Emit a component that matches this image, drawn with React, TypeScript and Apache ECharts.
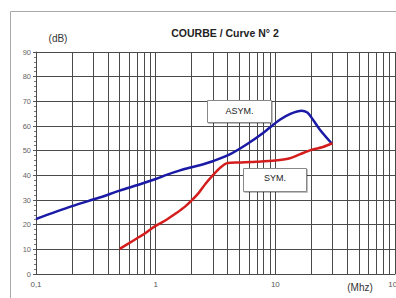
import React, { useEffect, useRef } from "react";
import * as echarts from "echarts";

const asymFreq = [0.1, 0.2, 0.34, 0.5, 0.73, 1, 1.25, 1.6, 2, 2.5, 3, 4.16, 5.74, 7.9, 10.9, 13.5, 16.6, 18.5, 20, 23.5, 29.5];
const asymDb = [22.3, 27.5, 31, 33.8, 36.3, 38.5, 40.3, 42, 43.3, 44.5, 45.7, 48.5, 52.5, 57.2, 62.5, 65, 66.2, 65.5, 63.5, 58.6, 53];

const symFreq = [0.5, 0.6, 0.7, 0.8, 0.9, 1, 1.25, 1.5, 1.75, 2, 2.3, 2.6, 3, 3.5, 4, 5, 7, 10, 13, 16, 20, 25, 30];
const symDb = [10.2, 12.5, 14.5, 16.2, 18, 19.5, 22.2, 24.8, 27.2, 29.8, 33, 36.5, 40, 43.3, 45, 45.2, 45.5, 46, 46.8, 48.5, 50.3, 51.5, 53];

const minorGridFreq = [0.2, 0.3, 0.4, 0.5, 0.6, 0.7, 0.8, 0.9, 2, 3, 4, 5, 6, 7, 8, 9, 20, 30, 40, 50, 60, 70, 80, 90];

const yTicks = { min: 0, max: 90, interval: 10 };

export default function App() {
  const ref = useRef<HTMLDivElement>(null);
  useEffect(() => {
    if (!ref.current) return;
    const chart = echarts.init(ref.current, undefined, { renderer: "svg" });
    const font = "Liberation Sans, Arial, sans-serif";
    const gridColor = "#4a4a4a";
    chart.setOption({
      animation: false,
      backgroundColor: "#ffffff",
      textStyle: { fontFamily: font },
      grid: { left: 36, right: 1, top: 52, bottom: 24, containLabel: false, outerBoundsMode: "none" },
      xAxis: {
        type: "log",
        logBase: 10,
        min: 0.1,
        max: 100,
        axisLine: { show: true, lineStyle: { color: gridColor, width: 1 } },
        axisTick: { show: false },
        axisLabel: {
          fontSize: 8,
          color: "#555",
          margin: 6,
          fontFamily: font,
          formatter: (v: number) => (v < 0.5 ? "0,1" : String(Math.round(v))),
        },
        splitLine: { show: true, lineStyle: { color: gridColor, width: 1 } },
      },
      yAxis: {
        type: "value",
        min: yTicks.min,
        max: yTicks.max,
        interval: yTicks.interval,
        axisLine: { show: true, lineStyle: { color: gridColor, width: 1 } },
        axisTick: { show: true, length: 3, lineStyle: { color: "#555" } },
        minorTick: { show: true, splitNumber: 5, length: 2, lineStyle: { color: "#777" } },
        axisLabel: { fontSize: 7.5, color: "#666", margin: 5, fontFamily: font },
        splitLine: { show: true, lineStyle: { color: gridColor, width: 1 } },
      },
      series: [
        {
          type: "line",
          data: [],
          z: 1,
          silent: true,
          markLine: {
            silent: true,
            symbol: ["none", "none"],
            label: { show: false },
            lineStyle: { color: gridColor, type: "solid", width: 1 },
            data: minorGridFreq.map((v) => ({ xAxis: v })),
          },
        },
        {
          name: "ASYM.",
          type: "line",
          z: 5,
          showSymbol: false,
          smooth: 0.3,
          lineStyle: { color: "#1a1aa6", width: 2.5 },
          data: asymFreq.map((f, i) => [f, asymDb[i]]),
        },
        {
          name: "SYM.",
          type: "line",
          z: 5,
          showSymbol: false,
          smooth: 0.3,
          lineStyle: { color: "#d41e1e", width: 2.5 },
          data: symFreq.map((f, i) => [f, symDb[i]]),
        },
      ],
      graphic: [
        {
          type: "rect",
          shape: { x: 10.5, y: 11.5, width: 420, height: 320 },
          style: { fill: "none", stroke: "#aaa", lineWidth: 1 },
          z: 0,
        },
        {
          type: "text",
          x: 225,
          y: 33,
          style: {
            text: "COURBE / Curve N° 2",
            font: `bold 10.5px ${font}`,
            fill: "#222",
            textAlign: "center",
            textVerticalAlign: "middle",
          },
        },
        {
          type: "text",
          x: 58,
          y: 38,
          style: { text: "(dB)", font: `10px ${font}`, fill: "#333", textAlign: "center", textVerticalAlign: "middle" },
        },
        {
          type: "text",
          x: 360,
          y: 287,
          style: { text: "(Mhz)", font: `10px ${font}`, fill: "#333", textAlign: "center", textVerticalAlign: "middle" },
        },
        {
          type: "rect",
          z: 10,
          shape: { x: 207.5, y: 100.5, width: 64, height: 22 },
          style: { fill: "#fff", stroke: "#888", lineWidth: 1, shadowColor: "rgba(0,0,0,0.25)", shadowOffsetX: 1, shadowOffsetY: 1, shadowBlur: 1 },
        },
        {
          type: "text",
          z: 11,
          x: 239.5,
          y: 111,
          style: { text: "ASYM.", font: `9px ${font}`, fill: "#222", textAlign: "center", textVerticalAlign: "middle" },
        },
        {
          type: "rect",
          z: 10,
          shape: { x: 243.5, y: 168.5, width: 63, height: 23 },
          style: { fill: "#fff", stroke: "#888", lineWidth: 1, shadowColor: "rgba(0,0,0,0.25)", shadowOffsetX: 1, shadowOffsetY: 1, shadowBlur: 1 },
        },
        {
          type: "text",
          z: 11,
          x: 275,
          y: 178,
          style: { text: "SYM.", font: `9px ${font}`, fill: "#222", textAlign: "center", textVerticalAlign: "middle" },
        },
      ],
    });
    return () => chart.dispose();
  }, []);
  return (
    <div
      ref={ref}
      style={{ position: "absolute", left: 0, top: 0, width: 396, height: 298 }}
    />
  );
}
